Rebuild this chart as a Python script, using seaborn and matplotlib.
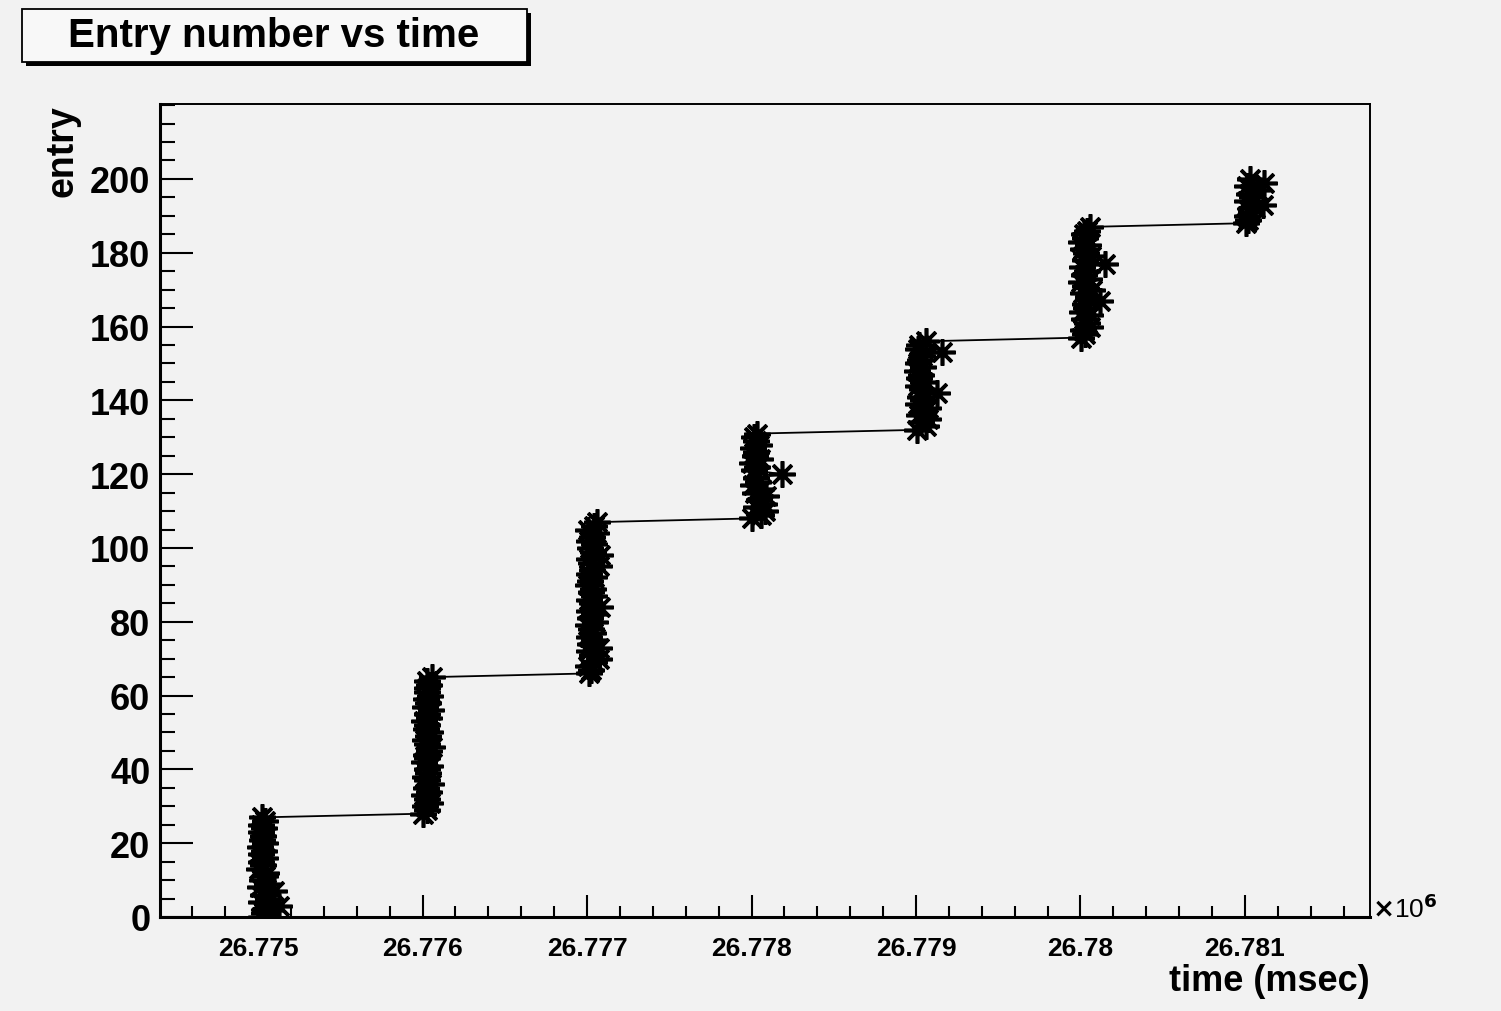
import numpy as np
import pandas as pd
import seaborn as sns
import matplotlib.pyplot as plt
from matplotlib.patches import Rectangle
from matplotlib.ticker import MultipleLocator, FixedLocator

# spill start times (msec) and per-entry offsets (msec)
spill_start = [26775000, 26776000, 26777000, 26778000, 26779000, 26780000, 26781000]
off1 = [20, 35, 70, 125, 15, 60, 30, 95, 10, 55, 25, 40, 50, 5, 30, 20, 45, 15, 35, 10,
        40, 25, 30, 15, 35, 20, 40, 25]
off2 = [5, 30, 15, 45, 25, 10, 40, 20, 50, 30, 15, 35, 25, 45, 10, 30, 20, 40, 55, 25,
        15, 35, 45, 20, 30, 10, 40, 25, 50, 15, 35, 20, 45, 30, 25, 40, 30, 55]
off3 = [10, 25, 5, 40, 70, 30, 15, 75, 20, 45, 10, 35, 25, 5, 50, 20, 40, 15, 80, 30,
        10, 45, 25, 35, 5, 20, 40, 15, 30, 75, 25, 10, 80, 35, 20, 45, 15, 30, 55, 5,
        40, 60]
off4 = [0, 60, 85, 30, 75, 45, 90, 20, 55, 10, 40, 25, 185, 15, 35, 5, 50, 20, 30, 10,
        45, 25, 15, 35]
off5 = [5, 60, 30, 75, 20, 50, 70, 15, 40, 25, 130, 35, 10, 45, 20, 30, 5, 40, 15, 25,
        35, 160, 10, 20, 60]
off6 = [5, 30, 15, 55, 40, 20, 60, 10, 35, 25, 120, 45, 15, 70, 30, 5, 50, 20, 40, 10,
        150, 25, 65, 35, 15, 45, 5, 30, 20, 40, 55]
off7 = [5, 20, 10, 35, 60, 110, 15, 45, 25, 70, 10, 115, 30]
offsets = [off1, off2, off3, off4, off5, off6, off7]

x_ticks = [26.775, 26.776, 26.777, 26.778, 26.779, 26.780, 26.781]
x_ticklabels = ["26.775", "26.776", "26.777", "26.778", "26.779", "26.78", "26.781"]
y_ticks = [0, 20, 40, 60, 80, 100, 120, 140, 160, 180, 200]

times = []
for start, offs in zip(spill_start, offsets):
    times += [start + o for o in offs]
df = pd.DataFrame({"time": np.array(times) / 1e6, "entry": np.arange(len(times))})

bg = "#f2f2f2"
sns.set_theme(style="ticks")
plt.rcParams["font.family"] = ["Liberation Sans", "DejaVu Sans"]
plt.rcParams["font.weight"] = "bold"
plt.rcParams["text.color"] = "black"
plt.rcParams["xtick.color"] = "black"
plt.rcParams["ytick.color"] = "black"

fig = plt.figure(figsize=(15.01, 10.12), dpi=100, facecolor=bg)
ax = fig.add_axes([160 / 1501, 1 - 918 / 1012, 1210 / 1501, 813 / 1012])
ax.set_facecolor(bg)

sns.lineplot(data=df, x="time", y="entry", sort=False, estimator=None, ax=ax,
             color="black", linewidth=1.3, marker=(8, 2, 0), markersize=19,
             markeredgecolor="black", markeredgewidth=2.6, markerfacecolor="none")

ax.set_xlim(26.774404, 26.78176)
ax.set_ylim(0, 220.3)
ax.set_xticks(x_ticks)
ax.set_xticklabels(x_ticklabels)
ax.xaxis.set_minor_locator(MultipleLocator(0.0002))
ax.yaxis.set_major_locator(FixedLocator(y_ticks))
ax.yaxis.set_minor_locator(MultipleLocator(5))
ax.tick_params(axis="x", which="major", direction="in", length=16, width=1.5,
               labelsize=19, pad=14, color="black", labelcolor="black")
ax.tick_params(axis="x", which="minor", direction="in", length=8, width=1.5, color="black")
ax.tick_params(axis="y", which="major", direction="in", length=24, width=1.5,
               labelsize=26, pad=7, color="black", labelcolor="black")
ax.tick_params(axis="y", which="minor", direction="in", length=11, width=1.5, color="black")
for lab in ax.get_xticklabels() + ax.get_yticklabels():
    lab.set_fontweight("bold")

for side in ["left", "bottom"]:
    ax.spines[side].set_linewidth(2.2)
for side in ["top", "right"]:
    ax.spines[side].set_linewidth(1.4)
for sp in ax.spines.values():
    sp.set_color("black")

ax.set_xlabel("")
ax.set_ylabel("")
fig.text(1370 / 1501, 1 - 982 / 1012, "time (msec)", ha="right", va="center",
         fontsize=26, fontweight="bold")
fig.text(62 / 1501, 1 - 105 / 1012, "entry", ha="center", va="top", rotation=90,
         fontsize=27, fontweight="bold")
fig.text(1372 / 1501, 1 - 909 / 1012, r"$\times$10$^{6}$", ha="left", va="center",
         fontsize=19, fontweight="normal")

# title box with ROOT-style shadow
fig.patches.append(Rectangle((26 / 1501, 1 - 67 / 1012), 505 / 1501, 53 / 1012,
                             transform=fig.transFigure, facecolor="black", edgecolor="none"))
fig.patches.append(Rectangle((22 / 1501, 1 - 63 / 1012), 505 / 1501, 53 / 1012,
                             transform=fig.transFigure, facecolor="#f8f8f8",
                             edgecolor="black", linewidth=1.3))
fig.text(274 / 1501, 1 - 36 / 1012, "Entry number vs time", ha="center", va="center",
         fontsize=29, fontweight="bold")

fig.savefig("out.png", dpi=100, facecolor=bg)
